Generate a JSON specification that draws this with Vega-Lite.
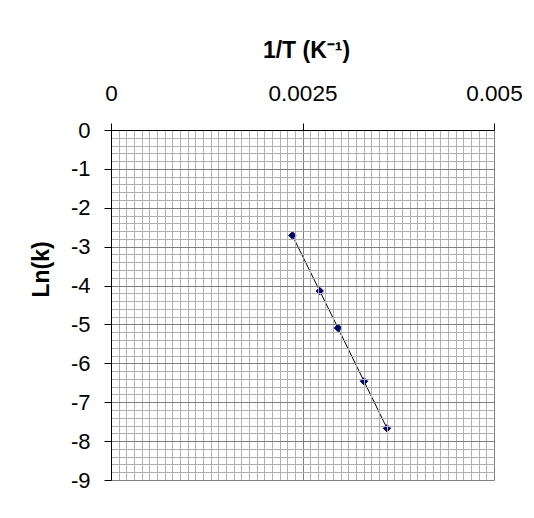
{
  "$schema": "https://vega.github.io/schema/vega-lite/v6.json",
  "autosize": "none",
  "width": 383,
  "height": 350,
  "padding": {"left": 111, "top": 130, "right": 40, "bottom": 38},
  "background": "white",
  "config": {"view": {"stroke": null}},
  "data": {
    "values": [
      {"invT": 0.002368, "lnk": -2.71},
      {"invT": 0.002725, "lnk": -4.14},
      {"invT": 0.002963, "lnk": -5.09},
      {"invT": 0.003303, "lnk": -6.46},
      {"invT": 0.003603, "lnk": -7.67}
    ]
  },
  "encoding": {
    "x": {
      "field": "invT",
      "type": "quantitative",
      "scale": {"domain": [0, 0.005], "nice": false, "zero": false},
      "axis": {
        "orient": "top",
        "zindex": 1,
        "values": [0,0.0001,0.0002,0.0003,0.0004,0.0005,0.0006,0.0007,0.0008,0.0009,0.001,0.0011,0.0012,0.0013,0.0014,0.0015,0.0016,0.0017,0.0018,0.0019,0.002,0.0021,0.0022,0.0023,0.0024,0.0025,0.0026,0.0027,0.0028,0.0029,0.003,0.0031,0.0032,0.0033,0.0034,0.0035,0.0036,0.0037,0.0038,0.0039,0.004,0.0041,0.0042,0.0043,0.0044,0.0045,0.0046,0.0047,0.0048,0.0049,0.005],
        "title": "1/T (K⁻¹)",
        "titleFont": "Liberation Sans",
        "titleFontSize": 23,
        "titleFontWeight": "bold",
        "titleColor": "black",
        "titleX": 195,
        "titleY": -80,
        "titleBaseline": "middle",
        "titleAlign": "center",
        "labelFont": "Liberation Sans",
        "labelFontSize": 22.5,
        "labelColor": "black",
        "labelExpr": "abs(datum.value*400 - round(datum.value*400)) < 1e-6 ? format(datum.value, '~g') : ''",
        "labelOverlap": false,
        "labelFlush": false,
        "labelBound": false,
        "labelPadding": 18,
        "tickSize": 7,
        "tickColor": "black",
        "tickOpacity": {"condition": {"test": "abs(datum.value*400 - round(datum.value*400)) < 1e-6", "value": 1}, "value": 0},
        "grid": true,
        "gridColor": {"condition": {"test": "abs(datum.value*400 - round(datum.value*400)) < 1e-6", "value": "#808080"}, "value": "#b0b0b0"},
        "gridOpacity": 1,
        "gridWidth": 1,
        "domainColor": "black",
        "domainWidth": 1
      }
    },
    "y": {
      "field": "lnk",
      "type": "quantitative",
      "scale": {"domain": [-9, 0], "nice": false, "zero": false},
      "axis": {
        "orient": "left",
        "zindex": 1,
        "values": [-9,-8.8,-8.6,-8.4,-8.2,-8,-7.8,-7.6,-7.4,-7.2,-7,-6.8,-6.6,-6.4,-6.2,-6,-5.8,-5.6,-5.4,-5.2,-5,-4.8,-4.6,-4.4,-4.2,-4,-3.8,-3.6,-3.4,-3.2,-3,-2.8,-2.6,-2.4,-2.2,-2,-1.8,-1.6,-1.4,-1.2,-1,-0.8,-0.6,-0.4,-0.2,0],
        "title": "Ln(k)",
        "titleFont": "Liberation Sans",
        "titleFontSize": 23,
        "titleFontWeight": "bold",
        "titleColor": "black",
        "titleAngle": -90,
        "titleX": -70,
        "titleY": 139,
        "titleBaseline": "middle",
        "titleAlign": "center",
        "labelFont": "Liberation Sans",
        "labelFontSize": 22,
        "labelColor": "black",
        "labelExpr": "abs(datum.value - round(datum.value)) < 1e-6 ? (round(datum.value) + '') : ''",
        "labelOverlap": false,
        "labelFlush": false,
        "labelBound": false,
        "labelPadding": 14,
        "tickSize": 7,
        "tickColor": "black",
        "tickOpacity": {"condition": {"test": "abs(datum.value - round(datum.value)) < 1e-6", "value": 1}, "value": 0},
        "grid": true,
        "gridColor": {"condition": {"test": "abs(datum.value - round(datum.value)) < 1e-6", "value": "#808080"}, "value": "#b0b0b0"},
        "gridOpacity": 1,
        "gridWidth": 1,
        "domainColor": "black",
        "domainWidth": 1
      }
    }
  },
  "layer": [
    {"mark": {"type": "line", "color": "black", "strokeWidth": 1}},
    {"mark": {"type": "point", "shape": "diamond", "filled": true, "color": "#000070", "stroke": "#000070", "strokeWidth": 1, "opacity": 1, "size": 55}}
  ]
}
